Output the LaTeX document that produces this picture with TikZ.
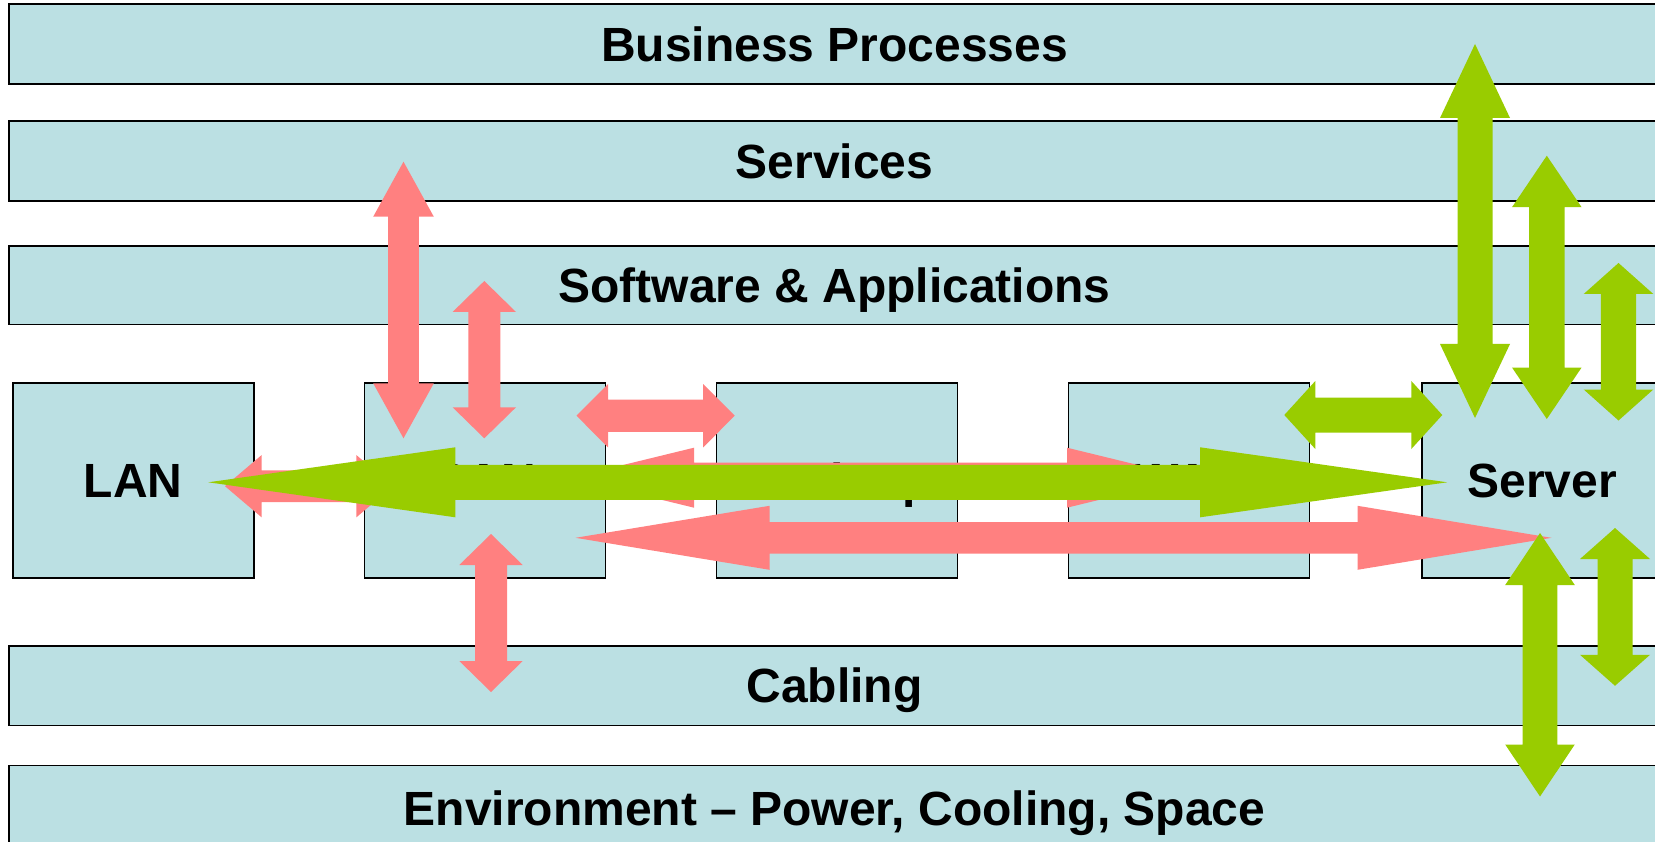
\documentclass[tikz,border=0pt]{standalone}
\usepackage{fontspec}
\setmainfont{Liberation Sans}
\usetikzlibrary{calc}

\definecolor{panel}{RGB}{187,224,227}
\definecolor{linkred}{RGB}{255,128,128}
\definecolor{linkgreen}{RGB}{153,204,0}

% Horizontal block double arrow: style, left tip, right tip, shaft half-width, head half-width, head length
\newcommand\linkH[6]{%
  \fill[#1] (#2) -- ($(#2)+(#6,-#5)$) -- ($(#2)+(#6,-#4)$) -- ($(#3)+(-#6,-#4)$)
    -- ($(#3)+(-#6,-#5)$) -- (#3) -- ($(#3)+(-#6,#5)$) -- ($(#3)+(-#6,#4)$)
    -- ($(#2)+(#6,#4)$) -- ($(#2)+(#6,#5)$) -- cycle;}
% Vertical block double arrow: style, top tip, bottom tip, shaft half-width, head half-width, head length
\newcommand\linkV[6]{%
  \fill[#1] (#2) -- ($(#2)+(-#5,#6)$) -- ($(#2)+(-#4,#6)$) -- ($(#3)+(-#4,-#6)$)
    -- ($(#3)+(-#5,-#6)$) -- (#3) -- ($(#3)+(#5,-#6)$) -- ($(#3)+(#4,-#6)$)
    -- ($(#2)+(#4,#6)$) -- ($(#2)+(#5,#6)$) -- cycle;}

\tikzset{
  panelbase/.style={draw=black, line width=1.8pt, fill=panel, inner sep=0pt,
    font=\fontsize{48}{58}\selectfont\bfseries, text height=34.4pt, text depth=0pt},
  layer/.style={panelbase, minimum width=1651pt},
  unit/.style={panelbase, minimum width=241pt, minimum height=194.5pt},
  redlink/.style={fill=linkred},
  greenlink/.style={fill=linkgreen}
}

\begin{document}
\begin{tikzpicture}[x=1pt, y=-1pt]
\useasboundingbox (0,0) rectangle (1655,842);
\fill[white] (0,0) rectangle (1655,842);
\clip (0,0) rectangle (1655,842);

% stacked layers
\node[layer, minimum height=80pt]   (bp)  at (834.5,44.3)  {Business Processes};
\node[layer, minimum height=79.3pt] (svc) at (834.5,161)   {Services};
\node[layer, minimum height=78.5pt] (sw)  at (834.5,285.2) {Software \& Applications};
\node[layer, minimum height=79.5pt] (cab) at (834.5,685.7) {Cabling};
\node[layer, minimum height=85pt]   (env) at (834.5,808)   {Environment -- Power, Cooling, Space};

% infrastructure units
\node[unit] (lan)  at (133.2,480.5)  {LAN};
\node[unit] (san)  at (485,480.5)    {SAN};
\node[unit] (desk) at (837,480.5)    {Desktop};
\node[unit] (wan)  at (1189,480.5)   {WAN};
\node[unit] (srv)  at (1542.3,480.5) {Server};

% arrow end points
\coordinate (lanSanL) at (225,486.2);    \coordinate (lanSanR) at (393,486.2);
\coordinate (svcSanT) at (403.5,161.7);  \coordinate (svcSanB) at (403.5,438.3);
\coordinate (swSanT)  at (484.3,281);    \coordinate (swSanB)  at (484.3,438.3);
\coordinate (sanCabT) at (491,534);      \coordinate (sanCabB) at (491,692);
\coordinate (sanDeskL) at (576.5,415.7); \coordinate (sanDeskR) at (734.7,415.7);
\coordinate (sanWanL) at (571,477.7);    \coordinate (sanWanR) at (1190,477.7);
\coordinate (sanSrvL) at (575.5,537.8);  \coordinate (sanSrvR) at (1551.5,537.8);

\coordinate (bpSrvT)  at (1475,44);      \coordinate (bpSrvB)  at (1475,418);
\coordinate (svcSrvT) at (1546.8,155.7); \coordinate (svcSrvB) at (1546.8,419);
\coordinate (swSrvT)  at (1618.5,263);   \coordinate (swSrvB)  at (1618.5,420.5);
\coordinate (wanSrvL) at (1284.3,415);   \coordinate (wanSrvR) at (1442.3,415);
\coordinate (srvEnvT) at (1540,533);     \coordinate (srvEnvB) at (1540,796.5);
\coordinate (srvCabT) at (1615,528);     \coordinate (srvCabB) at (1615,685.8);
\coordinate (lanSrvL) at (208.3,482.3);  \coordinate (lanSrvR) at (1447.2,482.3);

% red links
\linkH{redlink}{lanSanL}{lanSanR}{15.8}{31.2}{36.7}
\linkV{redlink}{svcSanT}{svcSanB}{15.3}{30.3}{55}
\linkV{redlink}{swSanT}{swSanB}{16}{31.7}{31}
\linkV{redlink}{sanCabT}{sanCabB}{16}{31.7}{31}
\linkH{redlink}{sanDeskL}{sanDeskR}{16.2}{31.7}{31.5}
\linkH{redlink}{sanWanL}{sanWanR}{15.2}{30}{123}
\linkH{redlink}{sanSrvL}{sanSrvR}{15.8}{32}{194}

% green links
\linkV{greenlink}{bpSrvT}{bpSrvB}{17.5}{35}{74}
\linkV{greenlink}{svcSrvT}{svcSrvB}{17.8}{34.8}{51.5}
\linkV{greenlink}{swSrvT}{swSrvB}{17.7}{34.8}{31}
\linkH{greenlink}{wanSrvL}{wanSrvR}{17.5}{34}{31}
\linkV{greenlink}{srvEnvT}{srvEnvB}{17.3}{34.8}{52}
\linkV{greenlink}{srvCabT}{srvCabB}{17.5}{35}{31}
\linkH{greenlink}{lanSrvL}{lanSrvR}{17.5}{35}{247}
\end{tikzpicture}
\end{document}
